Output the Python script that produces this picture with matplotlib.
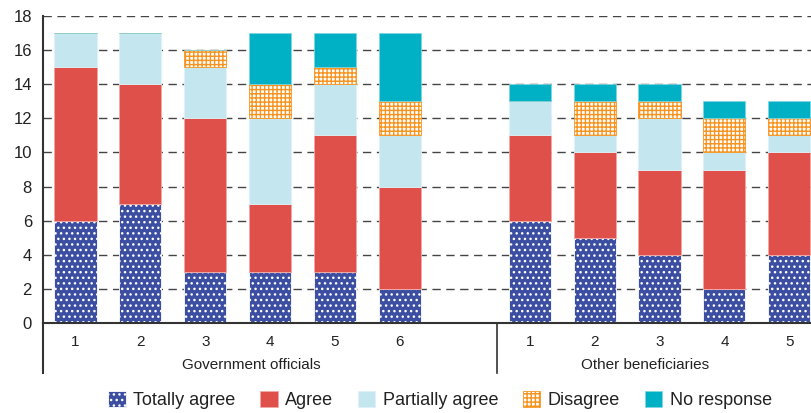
import matplotlib.pyplot as plt
import matplotlib.patches as mpatches
import numpy as np

plt.rcParams['font.family'] = ['Liberation Sans', 'DejaVu Sans']
plt.rcParams['hatch.linewidth'] = 1.0

groups = ['Government officials', 'Other beneficiaries']
gov_labels = ['1', '2', '3', '4', '5', '6']
oth_labels = ['1', '2', '3', '4', '5']

series = ['Totally agree', 'Agree', 'Partially agree', 'Disagree', 'No response']
totally_agree = [6, 7, 3, 3, 3, 2, 6, 5, 4, 2, 4]
agree = [9, 7, 9, 4, 8, 6, 5, 5, 5, 7, 6]
partially_agree = [2, 3, 3, 5, 3, 3, 2, 1, 3, 1, 1]
disagree = [0, 0, 1, 2, 1, 2, 0, 2, 1, 2, 1]
no_response = [0, 0, 0, 3, 2, 4, 1, 1, 1, 1, 1]

colors = ['#3b4ea1', '#e0504b', '#c4e6ef', '#ffffff', '#00b1c6']
edges = ['white', '#f0a9a6', '#dff1f6', '#f7931e', '#7fd6e1']
hatches = ['...', None, None, '++++', None]

x = np.array([1, 2, 3, 4, 5, 6, 8, 9, 10, 11, 12], dtype=float)

fig = plt.figure(figsize=(8.12, 4.13), dpi=100)
ax = fig.add_axes([0.053, 0.218, 0.947, 0.743])

bottom = np.zeros(len(x))
data = [totally_agree, agree, partially_agree, disagree, no_response]
for vals, c, e, h, name in zip(data, colors, edges, hatches, series):
    vals = np.array(vals, dtype=float)
    ax.bar(x, vals, 0.65, bottom=bottom, color=c, edgecolor=e, hatch=h,
           linewidth=0.6, zorder=2, label=name)
    bottom += vals

ax.set_xlim(0.5, 12.35)
ax.set_ylim(0, 18)
ax.set_yticks(range(0, 19, 2))
ax.yaxis.grid(True, linestyle=(0, (6, 4)), color='#444444', linewidth=1.0, zorder=0)
ax.set_axisbelow(True)
ax.tick_params(axis='y', length=0, labelsize=12, pad=8, labelcolor='#222222')
ax.tick_params(axis='x', length=0, labelsize=11, pad=9, labelcolor='#222222')
ax.set_xticks(x)
ax.set_xticklabels(gov_labels + oth_labels)

for s in ['top', 'right']:
    ax.spines[s].set_visible(False)
ax.spines['bottom'].set_color('#333333')
ax.spines['bottom'].set_linewidth(1.5)
ax.spines['left'].set_color('#333333')
ax.spines['left'].set_linewidth(1.5)

# extend left spine and group separator below the axis
trans = ax.get_xaxis_transform()
ax.plot([0.5, 0.5], [0, -0.163], transform=trans, color='#333333', lw=1.5, clip_on=False)
ax.plot([7.5, 7.5], [0, -0.163], transform=trans, color='#333333', lw=1.2, clip_on=False)

ax.text(3.71, -0.137, groups[0], transform=trans, ha='center', va='center', fontsize=11,
        color='#222222')
ax.text(9.78, -0.137, groups[1], transform=trans, ha='center', va='center', fontsize=11,
        color='#222222')

handles = [mpatches.Patch(facecolor=c, edgecolor=e, hatch=h, linewidth=0.6, label=n)
           for c, e, h, n in zip(colors, edges, hatches, series)]
fig.legend(handles=handles, loc='lower center', bbox_to_anchor=(0.542, -0.03), ncol=5,
           frameon=False, fontsize=13, handlelength=0.95, handleheight=0.95,
           handletextpad=0.4, columnspacing=1.4, labelcolor='#222222')

fig.savefig('out.png', dpi=100)
